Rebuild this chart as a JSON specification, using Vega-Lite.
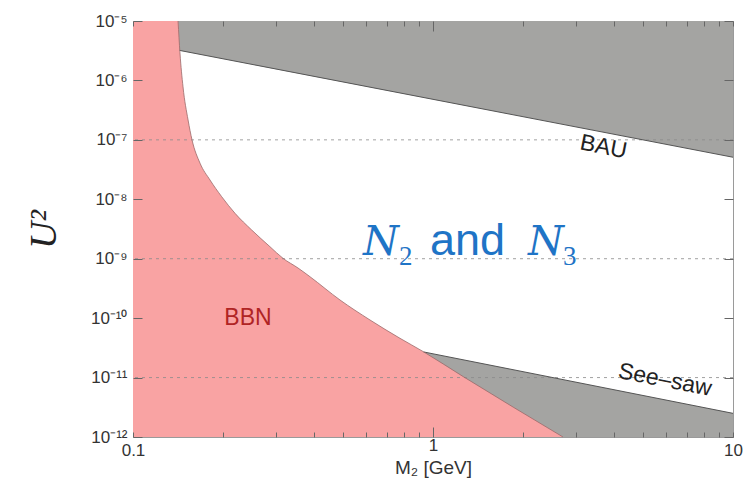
{
  "$schema": "https://vega.github.io/schema/vega-lite/v6.json",
  "width": 600,
  "height": 416,
  "autosize": {"type": "none"},
  "padding": {"left": 133, "top": 21, "right": 18, "bottom": 50},
  "background": "white",
  "config": {
    "view": {"stroke": "#9a9a9a", "strokeWidth": 1},
    "font": "Liberation Sans"
  },
  "datasets": {
    "bau": [{"x": 0.14, "y": 3.25e-6}, {"x": 10, "y": 5.1e-8}],
    "bauline": [{"x": 0.143, "y": 3.2e-6}, {"x": 10, "y": 5.1e-8}],
    "seesaw": [{"x": 0.93, "y": 2.7e-11}, {"x": 10, "y": 2.5e-12}],
    "bbn": [
      {"x": 0.1, "y": 1e-5},
      {"x": 0.1413, "y": 1e-5},
      {"x": 0.1434, "y": 2.9e-6},
      {"x": 0.1468, "y": 7.8e-7},
      {"x": 0.1526, "y": 2.16e-7},
      {"x": 0.1573, "y": 1e-7},
      {"x": 0.1673, "y": 4.04e-8},
      {"x": 0.1806, "y": 2.11e-8},
      {"x": 0.1975, "y": 1.107e-8},
      {"x": 0.2188, "y": 5.81e-9},
      {"x": 0.2487, "y": 3.04e-9},
      {"x": 0.2862, "y": 1.59e-9},
      {"x": 0.3162, "y": 1.016e-9},
      {"x": 0.3548, "y": 6.98e-10},
      {"x": 0.389, "y": 4.98e-10},
      {"x": 0.4898, "y": 2.02e-10},
      {"x": 0.6166, "y": 9.31e-11},
      {"x": 0.7762, "y": 4.58e-11},
      {"x": 0.9283, "y": 2.73e-11},
      {"x": 1.262, "y": 1.035e-11},
      {"x": 2.712, "y": 1e-12}
    ],
    "bbnline": [
      {"x": 0.1413, "y": 1e-5},
      {"x": 0.1434, "y": 2.9e-6},
      {"x": 0.1468, "y": 7.8e-7},
      {"x": 0.1526, "y": 2.16e-7},
      {"x": 0.1573, "y": 1e-7},
      {"x": 0.1673, "y": 4.04e-8},
      {"x": 0.1806, "y": 2.11e-8},
      {"x": 0.1975, "y": 1.107e-8},
      {"x": 0.2188, "y": 5.81e-9},
      {"x": 0.2487, "y": 3.04e-9},
      {"x": 0.2862, "y": 1.59e-9},
      {"x": 0.3162, "y": 1.016e-9},
      {"x": 0.3548, "y": 6.98e-10},
      {"x": 0.389, "y": 4.98e-10},
      {"x": 0.4898, "y": 2.02e-10},
      {"x": 0.6166, "y": 9.31e-11},
      {"x": 0.7762, "y": 4.58e-11},
      {"x": 0.9283, "y": 2.73e-11},
      {"x": 1.262, "y": 1.035e-11},
      {"x": 2.712, "y": 1e-12}
    ],
    "grid": [{"g": 1e-7}, {"g": 1e-9}, {"g": 1e-11}],
    "labels": [
      {"x": 0.2416, "y": 1e-10, "t": "BBN", "c": "bbn", "a": 0},
      {"x": 3.7, "y": 7.59e-8, "t": "BAU", "c": "k", "a": 11},
      {"x": 5.934, "y": 9.12e-12, "t": "See\u2013saw", "c": "k", "a": 11}
    ],
    "nbig": [
      {"x": 0.5843, "y": 1.156e-9, "t": "N"},
      {"x": 2.073, "y": 1.156e-9, "t": "N"}
    ],
    "nsub": [
      {"x": 0.77, "y": 7.83e-10, "t": "2"},
      {"x": 2.712, "y": 7.83e-10, "t": "3"}
    ],
    "nand": [
      {"x": 0.9772, "y": 1.156e-9, "t": "and"}
    ]
  },
  "layer": [
    {
      "data": {"name": "bau"},
      "mark": {"type": "area", "color": "#a4a4a2"},
      "encoding": {
        "x": {
          "field": "x", "type": "quantitative",
          "scale": {"type": "log", "domain": [0.1, 10], "nice": false},
          "axis": {
            "orient": "bottom",
            "zindex": 2,
            "values": [0.1, 0.2, 0.3, 0.4, 0.5, 0.6, 0.7, 0.8, 0.9, 1, 2, 3, 4, 5, 6, 7, 8, 9, 10],
            "labelExpr": "datum.value == 0.1 ? '0.1' : datum.value == 1 ? '1' : datum.value == 10 ? '10' : ''",
            "labelOverlap": false,
            "labelFlush": false,
            "labelBound": false,
            "domain": false,
            "grid": false,
            "tickSize": {"condition": {"test": "datum.value == 1", "value": -10}, "value": -5},
            "tickWidth": 1,
            "tickColor": "#666666",
            "labelFontSize": 17,
            "labelColor": "#333",
            "labelPadding": 10,
            "title": "M\u2082 [GeV]",
            "titleFontSize": 19,
            "titleFontWeight": "normal",
            "titleColor": "#333",
            "titlePadding": 0
          }
        },
        "y": {
          "field": "y", "type": "quantitative",
          "scale": {"type": "log", "domain": [1e-12, 1e-5], "nice": false},
          "axis": {
            "orient": "left",
            "zindex": 2,
            "values": [1e-12, 1e-11, 1e-10, 1e-9, 1e-8, 1e-7, 1e-6, 1e-5],
            "labelExpr": "datum.value < 3e-12 ? '10\u207b\u00b9\u00b2' : datum.value < 3e-11 ? '10\u207b\u00b9\u00b9' : datum.value < 3e-10 ? '10\u207b\u00b9\u2070' : datum.value < 3e-9 ? '10\u207b\u2079' : datum.value < 3e-8 ? '10\u207b\u2078' : datum.value < 3e-7 ? '10\u207b\u2077' : datum.value < 3e-6 ? '10\u207b\u2076' : '10\u207b\u2075'",
            "labelOverlap": false,
            "labelBound": false,
            "labelFlush": false,
            "domain": false,
            "grid": false,
            "tickSize": -9,
            "tickWidth": 1,
            "tickColor": "#666666",
            "labelFontSize": 17,
            "labelFont": "Liberation Sans",
            "labelColor": "#333",
            "labelPadding": 15,
            "title": "U\u00b2",
            "titleFont": "Liberation Serif",
            "titleFontStyle": "italic",
            "titleFontSize": 38,
            "titleFontWeight": "normal",
            "titleColor": "#222",
            "titlePadding": 27
          }
        },
        "y2": {"datum": 1e-5}
      }
    },
    {
      "data": {"name": "seesaw"},
      "mark": {"type": "area", "color": "#a4a4a2"},
      "encoding": {
        "x": {
          "field": "x", "type": "quantitative",
          "scale": {"type": "log", "domain": [0.1, 10], "nice": false},
          "axis": {
            "orient": "top",
            "zindex": 2,
            "values": [0.1, 0.2, 0.3, 0.4, 0.5, 0.6, 0.7, 0.8, 0.9, 1, 2, 3, 4, 5, 6, 7, 8, 9, 10],
            "labels": false,
            "domain": false,
            "grid": false,
            "tickSize": {"condition": {"test": "datum.value == 1", "value": -10}, "value": -5},
            "tickWidth": 1,
            "tickColor": "#666666",
            "title": null
          }
        },
        "y": {
          "field": "y", "type": "quantitative",
          "scale": {"type": "log", "domain": [1e-12, 1e-5], "nice": false},
          "axis": {
            "orient": "right",
            "zindex": 2,
            "values": [1e-12, 1e-11, 1e-10, 1e-9, 1e-8, 1e-7, 1e-6, 1e-5],
            "labels": false,
            "domain": false,
            "grid": false,
            "tickSize": -9,
            "tickWidth": 1,
            "tickColor": "#666666",
            "title": null
          }
        },
        "y2": {"datum": 1e-12}
      }
    },
    {
      "data": {"name": "bbn"},
      "mark": {"type": "area", "color": "#f9a3a3", "interpolate": "monotone"},
      "encoding": {
        "x": {"field": "x", "type": "quantitative", "scale": {"type": "log", "domain": [0.1, 10], "nice": false}, "axis": null},
        "y": {"field": "y", "type": "quantitative", "scale": {"type": "log", "domain": [1e-12, 1e-5], "nice": false}, "axis": null},
        "y2": {"datum": 1e-12}
      }
    },
    {
      "data": {"name": "grid"},
      "mark": {"type": "rule", "color": "#8a8a8a", "strokeWidth": 1, "strokeDash": [3, 4], "opacity": 0.8},
      "encoding": {
        "y": {"field": "g", "type": "quantitative", "scale": {"type": "log", "domain": [1e-12, 1e-5], "nice": false}, "axis": null}
      }
    },
    {
      "data": {"name": "bauline"},
      "mark": {"type": "line", "color": "#555", "strokeWidth": 1},
      "encoding": {
        "x": {"field": "x", "type": "quantitative", "scale": {"type": "log", "domain": [0.1, 10], "nice": false}, "axis": null},
        "y": {"field": "y", "type": "quantitative", "scale": {"type": "log", "domain": [1e-12, 1e-5], "nice": false}, "axis": null}
      }
    },
    {
      "data": {"name": "seesaw"},
      "mark": {"type": "line", "color": "#555", "strokeWidth": 1},
      "encoding": {
        "x": {"field": "x", "type": "quantitative", "scale": {"type": "log", "domain": [0.1, 10], "nice": false}, "axis": null},
        "y": {"field": "y", "type": "quantitative", "scale": {"type": "log", "domain": [1e-12, 1e-5], "nice": false}, "axis": null}
      }
    },
    {
      "data": {"name": "bbnline"},
      "mark": {"type": "line", "color": "#9a6a6a", "strokeWidth": 0.8, "interpolate": "monotone"},
      "encoding": {
        "x": {"field": "x", "type": "quantitative", "scale": {"type": "log", "domain": [0.1, 10], "nice": false}, "axis": null},
        "y": {"field": "y", "type": "quantitative", "scale": {"type": "log", "domain": [1e-12, 1e-5], "nice": false}, "axis": null}
      }
    },
    {
      "data": {"name": "labels"},
      "mark": {"type": "text", "fontSize": 23, "align": "center", "baseline": "middle", "font": "Liberation Sans"},
      "encoding": {
        "x": {"field": "x", "type": "quantitative", "scale": {"type": "log", "domain": [0.1, 10], "nice": false}, "axis": null},
        "y": {"field": "y", "type": "quantitative", "scale": {"type": "log", "domain": [1e-12, 1e-5], "nice": false}, "axis": null},
        "text": {"field": "t"},
        "angle": {"field": "a", "type": "quantitative", "scale": null},
        "color": {"field": "c", "type": "nominal", "scale": {"domain": ["bbn", "k"], "range": ["#b02424", "#222222"]}, "legend": null}
      }
    },
    {
      "data": {"name": "nbig"},
      "mark": {"type": "text", "fontSize": 41, "align": "left", "baseline": "alphabetic", "font": "DejaVu Serif", "fontStyle": "italic", "color": "#1f74c6"},
      "encoding": {
        "x": {"field": "x", "type": "quantitative", "scale": {"type": "log", "domain": [0.1, 10], "nice": false}, "axis": null},
        "y": {"field": "y", "type": "quantitative", "scale": {"type": "log", "domain": [1e-12, 1e-5], "nice": false}, "axis": null},
        "text": {"field": "t"}
      }
    },
    {
      "data": {"name": "nsub"},
      "mark": {"type": "text", "fontSize": 27, "align": "left", "baseline": "alphabetic", "font": "Liberation Serif", "color": "#1f74c6"},
      "encoding": {
        "x": {"field": "x", "type": "quantitative", "scale": {"type": "log", "domain": [0.1, 10], "nice": false}, "axis": null},
        "y": {"field": "y", "type": "quantitative", "scale": {"type": "log", "domain": [1e-12, 1e-5], "nice": false}, "axis": null},
        "text": {"field": "t"}
      }
    },
    {
      "data": {"name": "nand"},
      "mark": {"type": "text", "fontSize": 45, "align": "left", "baseline": "alphabetic", "font": "Liberation Sans", "color": "#1f74c6"},
      "encoding": {
        "x": {"field": "x", "type": "quantitative", "scale": {"type": "log", "domain": [0.1, 10], "nice": false}, "axis": null},
        "y": {"field": "y", "type": "quantitative", "scale": {"type": "log", "domain": [1e-12, 1e-5], "nice": false}, "axis": null},
        "text": {"field": "t"}
      }
    }
  ],
  "resolve": {"axis": {"x": "independent", "y": "independent"}}
}
